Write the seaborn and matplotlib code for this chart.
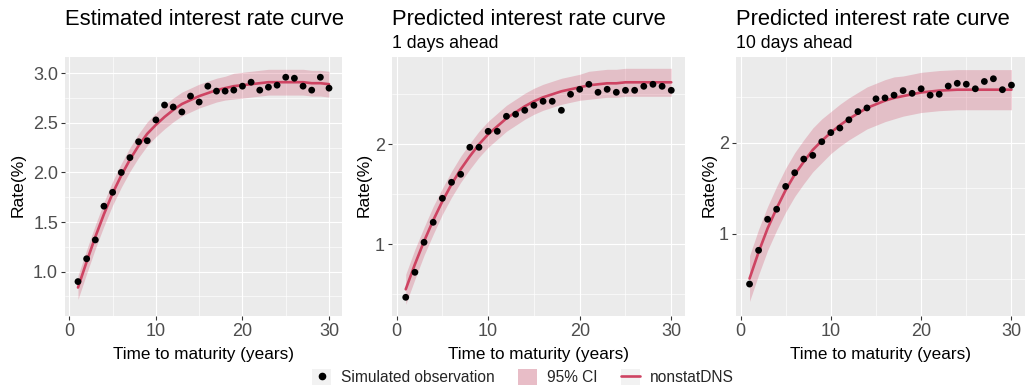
import matplotlib
matplotlib.use("Agg")
import matplotlib.pyplot as plt
import numpy as np
import pandas as pd
import seaborn as sns
from matplotlib.lines import Line2D
from matplotlib.patches import Patch
from matplotlib.legend_handler import HandlerTuple
from matplotlib.ticker import MultipleLocator, FixedLocator

# ---------------- data ----------------
maturity = list(range(1, 31))

# Panel 1: estimated curve
obs_est = [0.90, 1.13, 1.32, 1.66, 1.80, 2.00, 2.15, 2.31, 2.32, 2.53,
           2.68, 2.66, 2.61, 2.77, 2.71, 2.87, 2.82, 2.82, 2.83, 2.87,
           2.91, 2.83, 2.86, 2.88, 2.96, 2.95, 2.87, 2.83, 2.96, 2.85]
fit_est = [0.84, 1.10, 1.35, 1.58, 1.79, 1.97, 2.13, 2.27, 2.39, 2.48,
           2.56, 2.63, 2.69, 2.73, 2.77, 2.80, 2.83, 2.85, 2.87, 2.88,
           2.89, 2.90, 2.91, 2.91, 2.91, 2.91, 2.91, 2.90, 2.90, 2.89]
hw_est = [0.12, 0.12, 0.12, 0.12, 0.12, 0.12, 0.12, 0.12, 0.12, 0.12,
          0.12, 0.12, 0.12, 0.12, 0.12, 0.12, 0.12, 0.12, 0.13, 0.13,
          0.13, 0.13, 0.13, 0.13, 0.13, 0.13, 0.13, 0.13, 0.13, 0.13]

# Panel 2: 1 day ahead
obs_1d = [0.47, 0.72, 1.02, 1.22, 1.46, 1.62, 1.70, 1.97, 1.97, 2.13,
          2.13, 2.28, 2.30, 2.34, 2.39, 2.43, 2.43, 2.34, 2.50, 2.55,
          2.60, 2.52, 2.55, 2.52, 2.54, 2.54, 2.58, 2.60, 2.58, 2.54]
fit_1d = [0.55, 0.80, 1.03, 1.24, 1.43, 1.60, 1.75, 1.88, 2.00, 2.10,
          2.18, 2.26, 2.32, 2.38, 2.43, 2.47, 2.50, 2.53, 2.55, 2.57,
          2.59, 2.60, 2.61, 2.61, 2.62, 2.62, 2.62, 2.62, 2.62, 2.62]
hw_1d = [0.15, 0.15, 0.14, 0.14, 0.13, 0.13, 0.13, 0.13, 0.13, 0.13,
         0.13, 0.13, 0.13, 0.13, 0.13, 0.13, 0.13, 0.13, 0.13, 0.13,
         0.14, 0.14, 0.14, 0.14, 0.14, 0.14, 0.14, 0.14, 0.14, 0.14]

# Panel 3: 10 days ahead
obs_10d = [0.45, 0.82, 1.16, 1.27, 1.52, 1.67, 1.82, 1.86, 2.01, 2.11,
           2.16, 2.25, 2.34, 2.38, 2.48, 2.49, 2.52, 2.57, 2.54, 2.59,
           2.52, 2.53, 2.62, 2.65, 2.64, 2.59, 2.67, 2.70, 2.58, 2.63]
fit_10d = [0.51, 0.80, 1.06, 1.28, 1.48, 1.65, 1.79, 1.92, 2.02, 2.11,
           2.19, 2.26, 2.32, 2.38, 2.42, 2.46, 2.49, 2.51, 2.53, 2.55,
           2.56, 2.57, 2.575, 2.58, 2.58, 2.58, 2.58, 2.58, 2.58, 2.58]
hw_10d = [0.25, 0.25, 0.24, 0.24, 0.24, 0.24, 0.24, 0.24, 0.24, 0.23,
          0.23, 0.23, 0.23, 0.23, 0.23, 0.23, 0.23, 0.22, 0.22, 0.22,
          0.22, 0.22, 0.22, 0.22, 0.22, 0.22, 0.22, 0.22, 0.22, 0.22]

titles = ["Estimated interest rate curve",
          "Predicted interest rate curve",
          "Predicted interest rate curve"]
subtitles = [None, "1 days ahead", "10 days ahead"]
x_ticks = [0, 10, 20, 30]
y_ticks = [[1.0, 1.5, 2.0, 2.5, 3.0], [1, 2], [1, 2]]
y_ticklabels = [["1.0", "1.5", "2.0", "2.5", "3.0"], ["1", "2"], ["1", "2"]]
legend_labels = ["Simulated observation", "95% CI", "nonstatDNS"]

# ---------------- style ----------------
sns.set_theme(style="darkgrid", rc={
    "axes.facecolor": "#EBEBEB",
    "grid.color": "white",
    "axes.edgecolor": "none",
    "xtick.bottom": True,
    "ytick.left": True,
    "xtick.major.size": 3,
    "ytick.major.size": 3,
    "xtick.major.width": 0.8,
    "ytick.major.width": 0.8,
    "xtick.color": "#333333",
    "ytick.color": "#333333",
})
plt.rcParams["font.family"] = ["Liberation Sans", "DejaVu Sans"]

RED = "#CE4362"
FILL = "#CC3D5E"
KEYBG = "#F2F2F2"
CIKEY = "#E8BDC7"

fig = plt.figure(figsize=(10.27, 3.89), dpi=100)
W, H = 1027.0, 389.0

panels = [
    dict(left=65, right=342, ylim=(0.553, 3.161), obs=obs_est, fit=fit_est, hw=hw_est,
         ylab_x=18, minor_y=0.25),
    dict(left=392, right=685, ylim=(0.283, 2.870), obs=obs_1d, fit=fit_1d, hw=hw_1d,
         ylab_x=364, minor_y=0.5),
    dict(left=736, right=1025, ylim=(0.100, 2.935), obs=obs_10d, fit=fit_10d, hw=hw_10d,
         ylab_x=709, minor_y=0.5),
]
top_px, bot_px = 57.3, 316.0

for i, p in enumerate(panels):
    ax = fig.add_axes([p["left"] / W, 1 - bot_px / H,
                       (p["right"] - p["left"]) / W, (bot_px - top_px) / H])
    df = pd.DataFrame({
        "maturity": maturity,
        "obs": p["obs"],
        "fit": p["fit"],
        "hw": p["hw"],
    })
    df["lo"] = df["fit"] - df["hw"]
    df["hi"] = df["fit"] + df["hw"]
    ax.fill_between(df["maturity"], df["lo"], df["hi"], color=FILL, alpha=0.25,
                    linewidth=0, zorder=2)
    sns.lineplot(data=df, x="maturity", y="fit", ax=ax, color=RED, linewidth=1.9,
                 zorder=3)
    sns.scatterplot(data=df, x="maturity", y="obs", ax=ax, color="black", s=24,
                    edgecolor="none", zorder=4)
    ax.set_xlim(-0.5, 31.5)
    ax.set_ylim(*p["ylim"])
    ax.xaxis.set_major_locator(FixedLocator(x_ticks))
    ax.xaxis.set_minor_locator(MultipleLocator(5))
    ax.yaxis.set_major_locator(FixedLocator(y_ticks[i]))
    ax.set_yticklabels(y_ticklabels[i])
    ax.yaxis.set_minor_locator(MultipleLocator(p["minor_y"]))
    ax.grid(which="major", color="white", linewidth=0.85)
    ax.grid(which="minor", color="white", linewidth=0.45)
    ax.tick_params(which="minor", length=0)
    ax.tick_params(which="major", labelsize=13, labelcolor="#4D4D4D", pad=2)
    ax.set_xlabel("Time to maturity (years)", fontsize=12.3, color="black", labelpad=5)
    ax.set_ylabel("")
    for s in ax.spines.values():
        s.set_visible(False)
    fig.text(p["ylab_x"] / W, 1 - 185 / H, "Rate(%)", rotation=90, fontsize=12.6,
             ha="center", va="center", color="black")
    fig.text(p["left"] / W, 1 - 25 / H, titles[i], fontsize=15.8, ha="left",
             va="baseline", color="black")
    if subtitles[i]:
        fig.text(p["left"] / W, 1 - 48 / H, subtitles[i], fontsize=12.8, ha="left",
                 va="baseline", color="black")

handles = [
    (Patch(facecolor=KEYBG, edgecolor="none"),
     Line2D([], [], marker="o", color="black", linestyle="none", markersize=4.5)),
    Patch(facecolor=CIKEY, edgecolor="none"),
    (Patch(facecolor=KEYBG, edgecolor="none"),
     Line2D([], [], color=RED, linewidth=1.9)),
]
fig.legend(handles, legend_labels, loc="center", bbox_to_anchor=(523 / W, 1 - 377 / H),
           ncol=3, frameon=False, fontsize=11.2, handlelength=1.22, handleheight=1.22,
           columnspacing=1.5, handletextpad=0.64,
           handler_map={tuple: HandlerTuple(ndivide=1, pad=0)})

fig.savefig("out.png", dpi=100)
